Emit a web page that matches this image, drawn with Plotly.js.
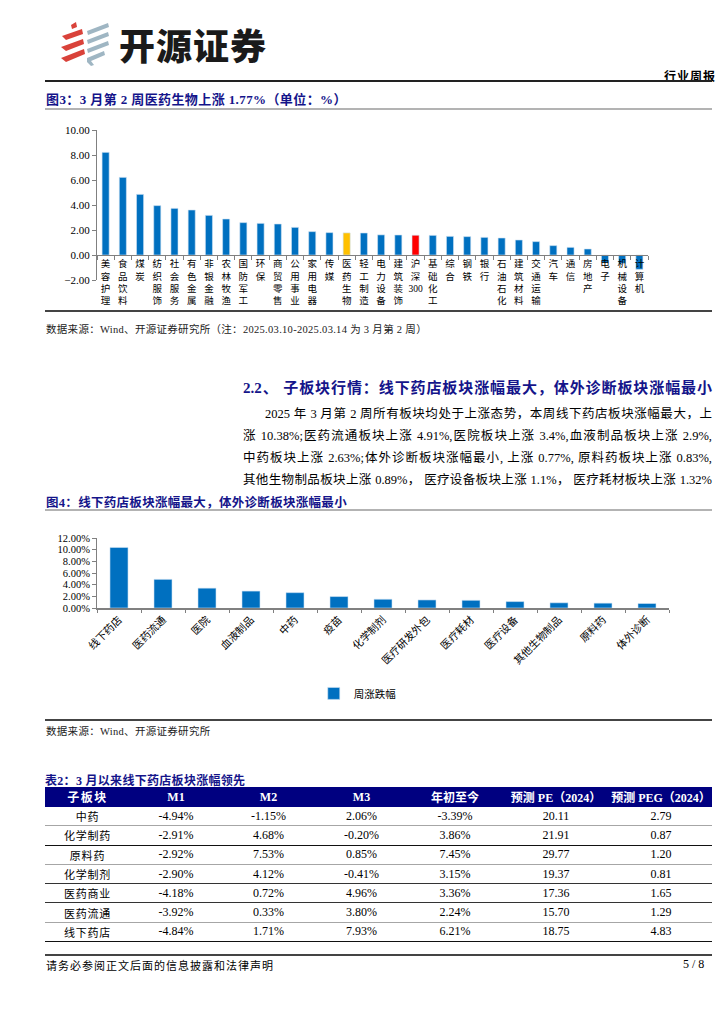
<!DOCTYPE html>
<html><head><meta charset="utf-8">
<script src="https://cdn.plot.ly/plotly-3.0.1.min.js"></script>
<style>
body{margin:0;background:#fff;width:724px;height:1024px;position:relative;overflow:hidden;font-family:"Liberation Serif","Noto Sans CJK SC",serif;color:#000;}
.abs{position:absolute;white-space:nowrap;}
.navy{color:#14148a;font-weight:bold;}
.hr{position:absolute;left:45px;width:667px;}
.para{position:absolute;left:243px;width:469px;font-size:12.5px;text-align:justify;text-align-last:justify;line-height:16px;}
table{border-collapse:collapse;font-size:12px;}
th{background:#000080;color:#fff;font-weight:bold;height:20px;padding:0;text-align:center;}
td{height:18.3px;padding:0;text-align:center;}
</style></head><body>

<svg class="abs" style="left:58px;top:22px" width="56" height="44" viewBox="0 0 56 44">
  <polygon points="13,3 18,0 19,5 14,7" fill="#d9423a"/>
  <polygon points="4,14 24,7 25,12 8,18" fill="#d9423a"/>
  <polygon points="3,25 25,17 26,22 8,29" fill="#d9423a"/>
  <polygon points="3,36 26,27 27,32 8,40" fill="#d9423a"/>
  <polygon points="29,9 50,1 51,5 30,13" fill="#9fb6c3"/>
  <polygon points="29,18 50,10 51,14 30,22" fill="#9fb6c3"/>
  <polygon points="29,27 50,19 51,23 30,31" fill="#9fb6c3"/>
  <polygon points="29,36 46,29 47,33 33,39 36,43 33,44 29,40" fill="#9fb6c3"/>
</svg>
<div class="abs" style="left:119px;top:22px;font-family:'Noto Sans CJK SC';font-weight:900;font-size:36px;letter-spacing:1px;color:#1a1a1a;line-height:44px;">开源证券</div>
<div class="abs" style="left:664px;top:67px;font-size:12px;font-weight:bold;letter-spacing:1px;">行业周报</div>
<div class="hr" style="top:80px;height:1.5px;background:#222;"></div>
<div class="abs navy" style="left:46px;top:89px;font-size:13px;letter-spacing:0.4px;">图3：3 月第 2 周医药生物上涨 1.77%（单位：%）</div>
<div class="hr" style="top:108px;height:2px;background:#b3b3b3;"></div>

<div id="chart1" class="abs" style="left:40px;top:112px;width:640px;height:198px;"></div>

<div class="hr" style="top:310px;height:1.5px;background:#444;"></div>
<div class="abs" style="left:46px;top:321px;font-size:10.5px;color:#222;letter-spacing:0.3px;">数据来源：Wind、开源证券研究所（注：2025.03.10-2025.03.14 为 3 月第 2 周）</div>

<div class="abs navy" style="left:243px;top:376px;width:469px;font-size:15px;text-align:justify;text-align-last:justify;">2.2、 子板块行情：线下药店板块涨幅最大，体外诊断板块涨幅最小</div>
<div class="para" style="top:406px;left:265px;width:447px;">2025 年 3 月第 2 周所有板块均处于上涨态势，本周线下药店板块涨幅最大，上</div>
<div class="para" style="top:428px;">涨 10.38%;医药流通板块上涨 4.91%,医院板块上涨 3.4%,血液制品板块上涨 2.9%,</div>
<div class="para" style="top:450px;">中药板块上涨 2.63%;体外诊断板块涨幅最小, 上涨 0.77%, 原料药板块上涨 0.83%,</div>
<div class="para" style="top:472px;">其他生物制品板块上涨 0.89%， 医疗设备板块上涨 1.1%， 医疗耗材板块上涨 1.32%</div>

<div class="abs navy" style="left:46px;top:492px;font-size:12.5px;letter-spacing:0.3px;">图4：线下药店板块涨幅最大，体外诊断板块涨幅最小</div>
<div class="hr" style="top:509px;height:2px;background:#b3b3b3;"></div>

<div id="chart2" class="abs" style="left:40px;top:512px;width:640px;height:206px;"></div>

<div class="hr" style="top:719px;height:1.5px;background:#444;"></div>
<div class="abs" style="left:46px;top:723px;font-size:10.5px;color:#222;letter-spacing:0.3px;">数据来源：Wind、开源证券研究所</div>

<div class="abs navy" style="left:45px;top:771px;font-size:12px;letter-spacing:0.3px;">表2：3 月以来线下药店板块涨幅领先</div>
<div id="tbl" class="abs" style="left:45px;top:787px;width:667px;"></div>

<div class="hr" style="top:954px;height:2px;background:#444;"></div>
<div class="abs" style="left:46px;top:957px;font-size:11px;letter-spacing:1px;">请务必参阅正文后面的信息披露和法律声明</div>
<div class="abs" style="left:683px;top:957px;font-size:12px;">5 / 8</div>

<script>
// ---------- Figure 3 data ----------
const industries = ['美容护理','食品饮料','煤炭','纺织服饰','社会服务','有色金属','非银金融','农林牧渔','国防军工','环保','商贸零售','公用事业','家用电器','传媒','医药生物','轻工制造','电力设备','建筑装饰','沪深300','基础化工','综合','钢铁','银行','石油石化','建筑材料','交通运输','汽车','通信','房地产','电子','机械设备','计算机'];
const industryChange = [8.21,6.21,4.85,3.95,3.73,3.60,3.17,2.88,2.59,2.53,2.48,2.21,1.87,1.79,1.77,1.76,1.61,1.60,1.58,1.57,1.49,1.47,1.41,1.36,1.20,1.07,0.75,0.61,0.48,-0.61,-0.67,-1.15];

// ---------- Figure 4 data ----------
const subSectors = ['线下药店','医药流通','医院','血液制品','中药','疫苗','化学制剂','医疗研发外包','医疗耗材','医疗设备','其他生物制品','原料药','体外诊断'];
const subChange = [10.38,4.91,3.40,2.90,2.63,1.96,1.50,1.38,1.32,1.10,0.89,0.83,0.77];
const seriesName = '周涨跌幅';

// ---------- Table 2 data ----------
const tableHeaders = ['子板块','M1','M2','M3','年初至今','预测 PE（2024）','预测 PEG（2024）'];
const tableRows = ['中药','化学制药','原料药','化学制剂','医药商业','医药流通','线下药店'];
const colM1 = ['-4.94%','-2.91%','-2.92%','-2.90%','-4.18%','-3.92%','-4.84%'];
const colM2 = ['-1.15%','4.68%','7.53%','4.12%','0.72%','0.33%','1.71%'];
const colM3 = ['2.06%','-0.20%','0.85%','-0.41%','4.96%','3.80%','7.93%'];
const colYTD = ['-3.39%','3.86%','7.45%','3.15%','3.36%','2.24%','6.21%'];
const colPE = ['20.11','21.91','29.77','19.37','17.36','15.70','18.75'];
const colPEG = ['2.79','0.87','1.20','0.81','1.65','1.29','4.83'];

const FONT = 'Liberation Serif, Noto Sans CJK SC, serif';
const BLUE = '#0070C0';

function vertical(s){
  const parts = s.match(/[0-9]+|./g);
  return parts.join('<br>');
}

// Chart 1
const colors1 = industries.map(c => c==='医药生物' ? '#FFC000' : (c==='沪深300' ? '#FF0000' : BLUE));
Plotly.newPlot('chart1', [{
  type:'bar', x: industries, y: industryChange,
  marker:{color: colors1, line:{color:'#cfe2f3', width:0.6}},
  hoverinfo:'skip'
}], {
  width:640, height:198,
  margin:{l:57, r:32, t:18, b:30},
  paper_bgcolor:'#fff', plot_bgcolor:'#fff',
  bargap:0.59, showlegend:false,
  font:{family:FONT, size:11, color:'#000'},
  xaxis:{
    type:'category', anchor:'free', position:2/12,
    tickmode:'array', tickvals: industries, ticktext: industries.map(vertical),
    tickangle:0,
    tickfont:{size:9.5, family:FONT},
    showline:true, linecolor:'#808080', linewidth:1,
    ticks:'outside', tickson:'boundaries', ticklen:4, tickcolor:'#808080',
    showgrid:false, zeroline:false, automargin:false
  },
  yaxis:{
    range:[-2,10], dtick:2, tick0:0, tickformat:'.2f',
    showline:true, linecolor:'#808080', linewidth:1,
    ticks:'outside', ticklen:4, tickcolor:'#808080',
    showgrid:false, zeroline:false, tickfont:{size:11, family:FONT}, automargin:false
  }
}, {staticPlot:true, displayModeBar:false});

// Chart 2
Plotly.newPlot('chart2', [{
  type:'bar', x: subSectors, y: subChange, name: seriesName,
  marker:{color: BLUE, line:{color:'#cfe2f3', width:0.6}},
  hoverinfo:'skip'
}], {
  width:640, height:206,
  margin:{l:57, r:11, t:26, b:110},
  paper_bgcolor:'#fff', plot_bgcolor:'#fff',
  bargap:0.59, showlegend:true,
  legend:{x:0.455, xanchor:'center', y:-1.22, yanchor:'middle', orientation:'h', font:{size:10.5, family:FONT}},
  font:{family:FONT, size:10.5, color:'#000'},
  xaxis:{
    type:'category', tickangle:-45, tickfont:{size:10.5, family:FONT},
    showline:true, linecolor:'#808080', linewidth:1.5,
    ticks:'outside', tickson:'boundaries', ticklen:3, tickcolor:'#808080',
    showgrid:false, zeroline:false, automargin:false
  },
  yaxis:{
    range:[0,12], dtick:2, tickformat:'.2f', ticksuffix:'%',
    showline:true, linecolor:'#808080', linewidth:1,
    ticks:'outside', ticklen:4, tickcolor:'#808080',
    showgrid:false, zeroline:false, tickfont:{size:10.5, family:FONT}, automargin:false
  }
}, {staticPlot:true, displayModeBar:false});

// Table
const widths = [85,92,93,93,94,108,102];
const lineColors = ['#a6a6a6','#111','#a6a6a6','#333','#333','#a6a6a6','#111'];
let html = '<table style="width:667px;table-layout:fixed;"><colgroup>' + widths.map(w=>'<col style="width:'+w+'px">').join('') + '</colgroup><tr>';
tableHeaders.forEach((h,i)=>{ html += '<th style="'+(i===0?'letter-spacing:1.5px;':'')+'">'+h+'</th>'; });
html += '</tr>';
tableRows.forEach((r,i)=>{
  const b = 'border-bottom:1.2px solid '+lineColors[i]+';';
  const cells = [r, colM1[i], colM2[i], colM3[i], colYTD[i], colPE[i], colPEG[i]];
  html += '<tr>' + cells.map((c,j)=>'<td style="'+b+(j===0?'letter-spacing:0.8px;font-size:11px;':'')+'">'+c+'</td>').join('') + '</tr>';
});
html += '</table>';
document.getElementById('tbl').innerHTML = html;
</script>
</body></html>
